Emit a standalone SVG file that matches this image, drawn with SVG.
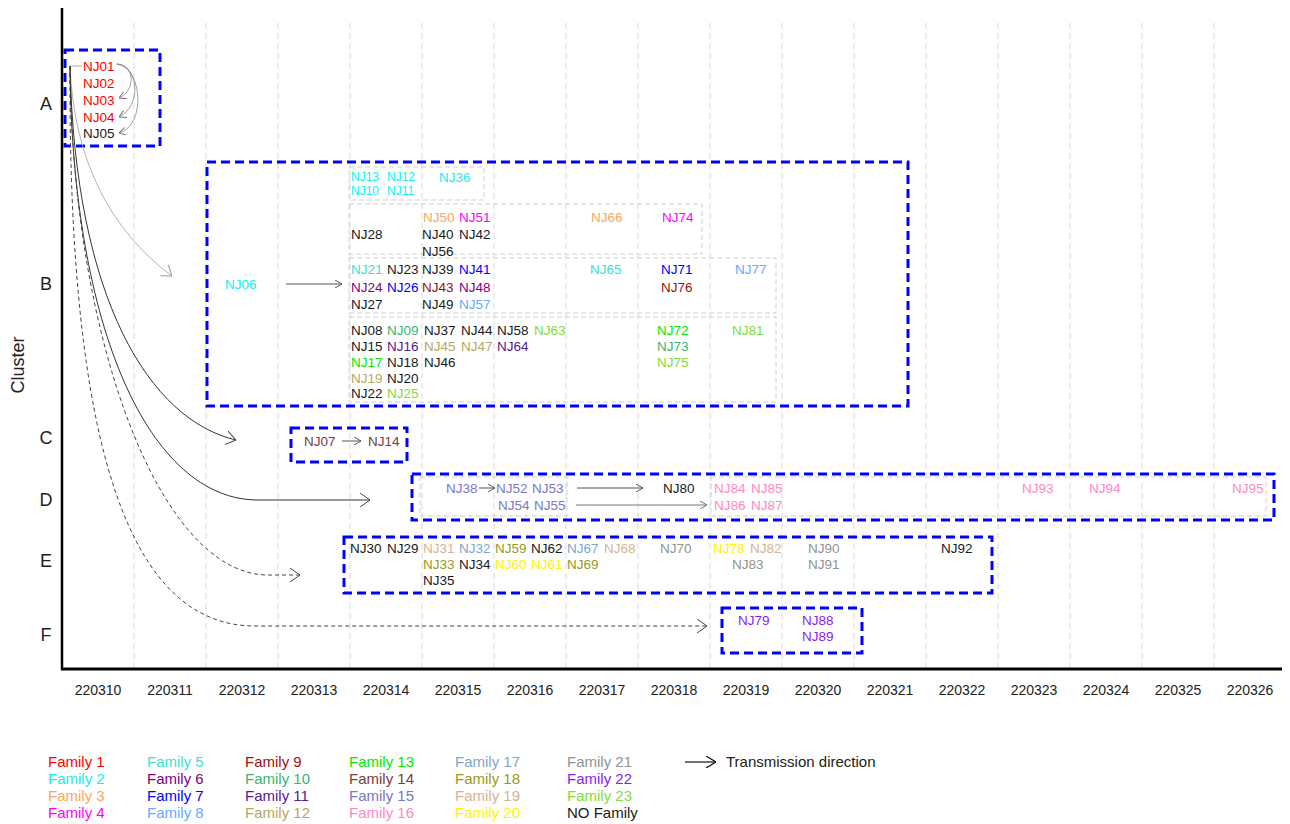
<svg xmlns="http://www.w3.org/2000/svg" width="1290" height="824" viewBox="0 0 1290 824">
<style>
text{font-family:"Liberation Sans",Arial,sans-serif;}
.n{font-size:13.5px;}
.s{font-size:12px;}
.ax{font-size:14px;fill:#222;}
.cl{font-size:18px;fill:#222;text-anchor:middle;}
.lg{font-size:15px;}
.grid{stroke:#d9d9d9;stroke-width:1;stroke-dasharray:6 4;fill:none;}
.box{stroke:#0000FF;stroke-width:3;stroke-dasharray:9 5;fill:none;}
.sub{stroke:#cfcfcf;stroke-width:1;stroke-dasharray:5 3;fill:none;}
.f1{fill:#FF0000}.f2{fill:#10F0F0}.f3{fill:#F8A860}.f4{fill:#FF00FF}.f5{fill:#40E0D0}.f6{fill:#800080}
.f7{fill:#0000FF}.f8{fill:#66AAFF}.f9{fill:#9B1010}.f10{fill:#3CB371}.f11{fill:#551A8B}.f12{fill:#B5A862}
.f13{fill:#00E800}.f14{fill:#7A3C3C}.f15{fill:#7878C8}.f16{fill:#FF88C4}.f17{fill:#7EA6CC}.f18{fill:#99991E}
.f19{fill:#D4B496}.f20{fill:#FFF200}.f21{fill:#8C9494}.f22{fill:#8A1EF0}.f23{fill:#80DD3A}.nf{fill:#1A1A1A}
</style>
<defs>
<marker id="bigDark" viewBox="0 0 10 14" markerWidth="10" markerHeight="14" refX="10" refY="7" orient="auto" markerUnits="userSpaceOnUse"><path d="M0,0 L10,7 L0,14" fill="none" stroke="#444" stroke-width="1"/></marker>
<marker id="bigLight" viewBox="0 0 10 14" markerWidth="10" markerHeight="14" refX="10" refY="7" orient="auto" markerUnits="userSpaceOnUse"><path d="M0,0 L10,7 L0,14" fill="none" stroke="#999" stroke-width="1"/></marker>
<marker id="small" viewBox="0 0 7 8" markerWidth="7" markerHeight="8" refX="7" refY="4" orient="auto" markerUnits="userSpaceOnUse"><path d="M0,0 L7,4 L0,8" fill="none" stroke="#555" stroke-width="1"/></marker>
<marker id="smallGray" viewBox="0 0 7 8" markerWidth="7" markerHeight="8" refX="7" refY="4" orient="auto" markerUnits="userSpaceOnUse"><path d="M0,0 L7,4 L0,8" fill="none" stroke="#777" stroke-width="1"/></marker>
<marker id="legendArrow" viewBox="0 0 10 12" markerWidth="10" markerHeight="12" refX="10" refY="6" orient="auto" markerUnits="userSpaceOnUse"><path d="M0,0 L10,6 L0,12" fill="none" stroke="#111" stroke-width="1.2"/></marker>
</defs>

<rect width="1290" height="824" fill="#ffffff"/>

<g id="grid">
<line class="grid" x1="134" y1="23" x2="134" y2="668"/>
<line class="grid" x1="206" y1="23" x2="206" y2="668"/>
<line class="grid" x1="278" y1="23" x2="278" y2="668"/>
<line class="grid" x1="350" y1="23" x2="350" y2="668"/>
<line class="grid" x1="422" y1="23" x2="422" y2="668"/>
<line class="grid" x1="494" y1="23" x2="494" y2="668"/>
<line class="grid" x1="566" y1="23" x2="566" y2="668"/>
<line class="grid" x1="638" y1="23" x2="638" y2="668"/>
<line class="grid" x1="710" y1="23" x2="710" y2="668"/>
<line class="grid" x1="782" y1="23" x2="782" y2="668"/>
<line class="grid" x1="854" y1="23" x2="854" y2="668"/>
<line class="grid" x1="926" y1="23" x2="926" y2="668"/>
<line class="grid" x1="998" y1="23" x2="998" y2="668"/>
<line class="grid" x1="1070" y1="23" x2="1070" y2="668"/>
<line class="grid" x1="1142" y1="23" x2="1142" y2="668"/>
<line class="grid" x1="1214" y1="23" x2="1214" y2="668"/>
</g>

<g id="axes">
<line x1="62" y1="8" x2="62" y2="670" stroke="#000" stroke-width="2.5"/>
<line x1="61" y1="669" x2="1282" y2="669" stroke="#000" stroke-width="3"/>
<g class="ax" text-anchor="middle">
<text x="98" y="695">220310</text><text x="170" y="695">220311</text><text x="242" y="695">220312</text>
<text x="314" y="695">220313</text><text x="386" y="695">220314</text><text x="458" y="695">220315</text>
<text x="530" y="695">220316</text><text x="602" y="695">220317</text><text x="674" y="695">220318</text>
<text x="746" y="695">220319</text><text x="818" y="695">220320</text><text x="890" y="695">220321</text>
<text x="962" y="695">220322</text><text x="1034" y="695">220323</text><text x="1106" y="695">220324</text>
<text x="1178" y="695">220325</text><text x="1250" y="695">220326</text>
</g>
<text class="cl" x="46" y="110">A</text>
<text class="cl" x="46" y="290">B</text>
<text class="cl" x="46" y="444">C</text>
<text class="cl" x="46" y="506">D</text>
<text class="cl" x="46" y="567">E</text>
<text class="cl" x="46" y="641">F</text>
<text class="cl" transform="translate(24,365) rotate(-90)">Cluster</text>
</g>

<g id="cluster-A">
<rect class="box" x="65" y="50" width="95" height="96"/>
<text class="n f1" x="83" y="71">NJ01</text>
<text class="n f1" x="83" y="88">NJ02</text>
<text class="n f1" x="83" y="105">NJ03</text>
<text class="n f1" x="83" y="122">NJ04</text>
<text class="n nf" x="83" y="138">NJ05</text>
</g>

<g id="cluster-B">
<rect class="box" x="207" y="162" width="701" height="244"/>
<rect class="sub" x="349" y="167" width="135" height="33"/>
<rect class="sub" x="349" y="204" width="353" height="50"/>
<rect class="sub" x="349" y="258" width="427" height="55"/>
<rect class="sub" x="349" y="317" width="427" height="85"/>
<text class="n f2" x="225" y="289">NJ06</text>
<text class="n s f2" x="351" y="181">NJ13</text><text class="n s f2" x="387" y="181">NJ12</text><text class="n f2" x="439" y="182">NJ36</text>
<text class="n s f2" x="351" y="195">NJ10</text><text class="n s f2" x="387" y="195">NJ11</text>
<text class="n f3" x="423" y="222">NJ50</text><text class="n f4" x="459" y="222">NJ51</text><text class="n f3" x="591" y="222">NJ66</text><text class="n f4" x="662" y="222">NJ74</text>
<text class="n nf" x="351" y="239">NJ28</text><text class="n nf" x="422" y="239">NJ40</text><text class="n nf" x="459" y="239">NJ42</text>
<text class="n nf" x="422" y="256">NJ56</text>
<text class="n f5" x="351" y="274">NJ21</text><text class="n nf" x="387" y="274">NJ23</text><text class="n nf" x="422" y="274">NJ39</text><text class="n f7" x="459" y="274">NJ41</text>
<text class="n f5" x="590" y="274">NJ65</text><text class="n f7" x="661" y="274">NJ71</text><text class="n f8" x="735" y="274">NJ77</text>
<text class="n f6" x="351" y="292">NJ24</text><text class="n f7" x="387" y="292">NJ26</text><text class="n f9" x="422" y="292">NJ43</text><text class="n f6" x="459" y="292">NJ48</text><text class="n f9" x="661" y="292">NJ76</text>
<text class="n nf" x="351" y="309">NJ27</text><text class="n nf" x="422" y="309">NJ49</text><text class="n f8" x="459" y="309">NJ57</text>
<text class="n nf" x="351" y="335">NJ08</text><text class="n f10" x="387" y="335">NJ09</text><text class="n nf" x="424" y="335">NJ37</text><text class="n nf" x="461" y="335">NJ44</text><text class="n nf" x="497" y="335">NJ58</text><text class="n f23" x="534" y="335">NJ63</text>
<text class="n f13" x="657" y="335">NJ72</text><text class="n f23" x="732" y="335">NJ81</text>
<text class="n nf" x="351" y="351">NJ15</text><text class="n f11" x="387" y="351">NJ16</text><text class="n f12" x="424" y="351">NJ45</text><text class="n f12" x="461" y="351">NJ47</text><text class="n f11" x="497" y="351">NJ64</text><text class="n f10" x="657" y="351">NJ73</text>
<text class="n f13" x="351" y="367">NJ17</text><text class="n nf" x="387" y="367">NJ18</text><text class="n nf" x="424" y="367">NJ46</text><text class="n f23" x="657" y="367">NJ75</text>
<text class="n f12" x="351" y="383">NJ19</text><text class="n nf" x="387" y="383">NJ20</text>
<text class="n nf" x="351" y="398">NJ22</text><text class="n f23" x="387" y="398">NJ25</text>
</g>

<g id="cluster-C">
<rect class="box" x="291" y="428" width="116" height="34"/>
<text class="n f14" x="304" y="446">NJ07</text>
<text class="n f14" x="368" y="446">NJ14</text>
</g>

<g id="cluster-D">
<rect class="box" x="412" y="474" width="862" height="46"/>
<rect class="sub" x="420" y="477" width="147" height="39"/>
<rect class="sub" x="711" y="477" width="555" height="39"/>
<text class="n f15" x="446" y="493">NJ38</text><text class="n f15" x="496" y="493">NJ52</text><text class="n f15" x="532" y="493">NJ53</text>
<text class="n nf" x="663" y="493">NJ80</text>
<text class="n f16" x="714" y="493">NJ84</text><text class="n f16" x="751" y="493">NJ85</text>
<text class="n f15" x="498" y="510">NJ54</text><text class="n f15" x="534" y="510">NJ55</text>
<text class="n f16" x="714" y="510">NJ86</text><text class="n f16" x="751" y="510">NJ87</text>
<text class="n f16" x="1022" y="493">NJ93</text><text class="n f16" x="1089" y="493">NJ94</text><text class="n f16" x="1232" y="493">NJ95</text>
</g>

<g id="cluster-E">
<rect class="box" x="344" y="537" width="648" height="56"/>
<text class="n nf" x="350" y="553">NJ30</text><text class="n nf" x="387" y="553">NJ29</text><text class="n f19" x="423" y="553">NJ31</text><text class="n f17" x="459" y="553">NJ32</text>
<text class="n f18" x="495" y="553">NJ59</text><text class="n nf" x="531" y="553">NJ62</text><text class="n f17" x="567" y="553">NJ67</text><text class="n f19" x="604" y="553">NJ68</text>
<text class="n f21" x="660" y="553">NJ70</text><text class="n f20" x="713" y="553">NJ78</text><text class="n f19" x="750" y="553">NJ82</text><text class="n f21" x="808" y="553">NJ90</text><text class="n nf" x="941" y="553">NJ92</text>
<text class="n f18" x="423" y="569">NJ33</text><text class="n nf" x="459" y="569">NJ34</text><text class="n f20" x="495" y="569">NJ60</text><text class="n f20" x="531" y="569">NJ61</text><text class="n f18" x="567" y="569">NJ69</text>
<text class="n f21" x="732" y="569">NJ83</text><text class="n f21" x="808" y="569">NJ91</text>
<text class="n nf" x="423" y="585">NJ35</text>
</g>

<g id="cluster-F">
<rect class="box" x="722" y="608" width="140" height="45"/>
<text class="n f22" x="738" y="625">NJ79</text>
<text class="n f22" x="802" y="625">NJ88</text>
<text class="n f22" x="802" y="641">NJ89</text>
</g>

<g id="connectors" fill="none">
<line x1="70" y1="66" x2="82" y2="66" stroke="#aaa" stroke-width="1"/>
<path d="M117,64 C134,64 137,90 119,98" stroke="#888" stroke-width="0.8" marker-end="url(#smallGray)"/>
<path d="M117,64 C139,66 142,106 119,117" stroke="#888" stroke-width="0.8" marker-end="url(#smallGray)"/>
<path d="M117,64 C143,68 146,126 119,133" stroke="#888" stroke-width="0.8" marker-end="url(#smallGray)"/>
<path d="M70,66 C74,160 110,230 172,276" stroke="#aaa" stroke-width="0.9" marker-end="url(#bigLight)"/>
<path d="M70,66 C75,300 150,420 236,440" stroke="#333" stroke-width="1" marker-end="url(#bigDark)"/>
<path d="M70,66 C72,330 150,500 258,500 L370,500" stroke="#333" stroke-width="1" marker-end="url(#bigDark)"/>
<path d="M70,66 C72,340 160,575 268,575 L300,575" stroke="#444" stroke-width="1" stroke-dasharray="4 3" marker-end="url(#bigDark)"/>
<path d="M70,66 C68,450 130,626 255,626 L707,626" stroke="#444" stroke-width="1" stroke-dasharray="4 3" marker-end="url(#bigDark)"/>
<line x1="286" y1="284" x2="342" y2="284" stroke="#555" stroke-width="1" marker-end="url(#small)"/>
<line x1="342" y1="441" x2="361" y2="441" stroke="#555" stroke-width="1" marker-end="url(#small)"/>
<line x1="479" y1="488" x2="495" y2="488" stroke="#555" stroke-width="1" marker-end="url(#small)"/>
<line x1="577" y1="488" x2="643" y2="488" stroke="#555" stroke-width="1" marker-end="url(#small)"/>
<line x1="576" y1="505" x2="707" y2="505" stroke="#777" stroke-width="1" marker-end="url(#smallGray)"/>
</g>

<g id="legend">
<text class="lg f1" x="48" y="767">Family 1</text>
<text class="lg f2" x="48" y="784">Family 2</text>
<text class="lg f3" x="48" y="801">Family 3</text>
<text class="lg f4" x="48" y="818">Family 4</text>
<text class="lg f5" x="147" y="767">Family 5</text>
<text class="lg f6" x="147" y="784">Family 6</text>
<text class="lg f7" x="147" y="801">Family 7</text>
<text class="lg f8" x="147" y="818">Family 8</text>
<text class="lg f9" x="245" y="767">Family 9</text>
<text class="lg f10" x="245" y="784">Family 10</text>
<text class="lg f11" x="245" y="801">Family 11</text>
<text class="lg f12" x="245" y="818">Family 12</text>
<text class="lg f13" x="349" y="767">Family 13</text>
<text class="lg f14" x="349" y="784">Family 14</text>
<text class="lg f15" x="349" y="801">Family 15</text>
<text class="lg f16" x="349" y="818">Family 16</text>
<text class="lg f17" x="455" y="767">Family 17</text>
<text class="lg f18" x="455" y="784">Family 18</text>
<text class="lg f19" x="455" y="801">Family 19</text>
<text class="lg f20" x="455" y="818">Family 20</text>
<text class="lg f21" x="567" y="767">Family 21</text>
<text class="lg f22" x="567" y="784">Family 22</text>
<text class="lg f23" x="567" y="801">Family 23</text>
<text class="lg nf" x="567" y="818">NO Family</text>
<line x1="685" y1="762" x2="716" y2="762" stroke="#111" stroke-width="1.2" marker-end="url(#legendArrow)"/>
<text class="lg" x="726" y="767" fill="#222">Transmission direction</text>
</g>
</svg>
